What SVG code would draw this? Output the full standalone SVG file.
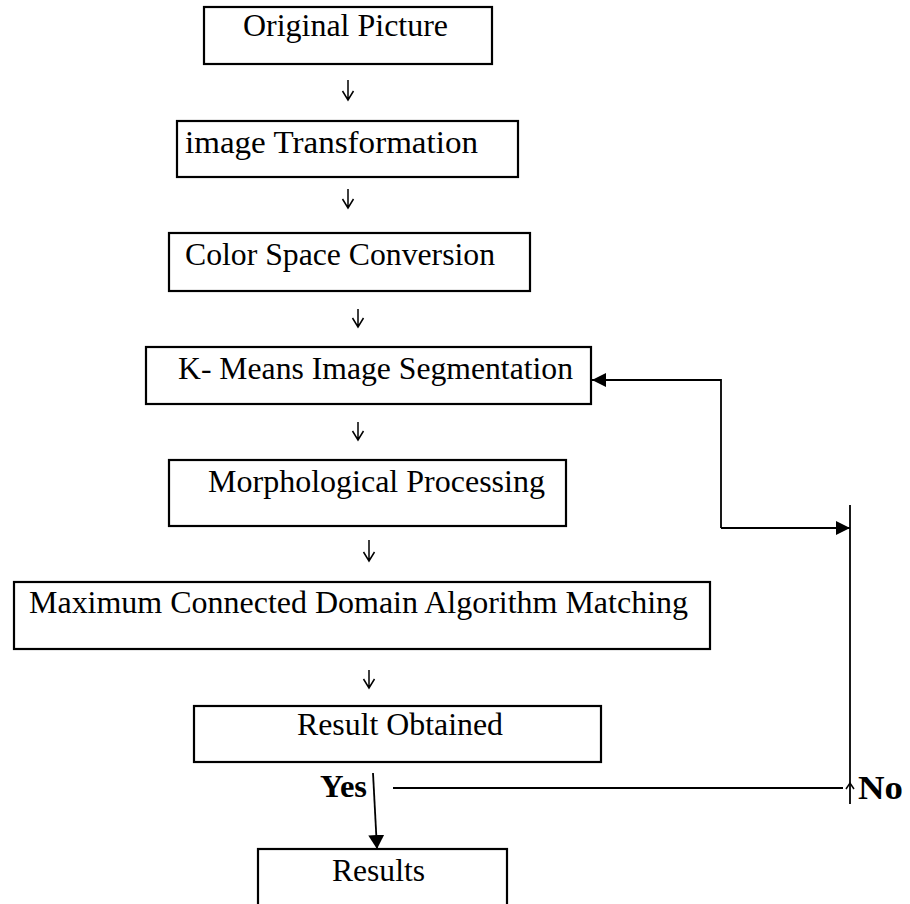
<svg xmlns="http://www.w3.org/2000/svg" width="910" height="904" viewBox="0 0 910 904">
<style>
  .box { fill: #fff; stroke: #000; stroke-width: 2.2; }
  .t { font-family: "Liberation Serif", "Times New Roman", serif; fill: #000; font-size: 31.5px; }
  .b { font-weight: bold; }
  .ln { fill: none; stroke: #000; stroke-width: 1.8; }
  .tick { fill: none; stroke: #000; stroke-width: 1.5; }
</style>
<defs>
  <marker id="tri" viewBox="0 0 14 14" refX="14" refY="7" markerWidth="14" markerHeight="14" markerUnits="userSpaceOnUse" orient="auto">
    <path d="M0,0 L14,7 L0,14 Z" fill="#000"/>
  </marker>
  <marker id="tri16" viewBox="0 0 14 16" refX="14" refY="8" markerWidth="14" markerHeight="16" markerUnits="userSpaceOnUse" orient="auto">
    <path d="M0,0 L14,8 L0,16 Z" fill="#000"/>
  </marker>
</defs>
<rect x="0" y="0" width="910" height="904" fill="#fff"/>

<g id="n1">
  <rect class="box" x="204" y="7" width="288" height="57"/>
  <text class="t" x="243" y="36" textLength="205" lengthAdjust="spacingAndGlyphs">Original Picture</text>
</g>
<g id="n2">
  <rect class="box" x="177" y="121" width="341" height="56"/>
  <text class="t" x="185" y="153" textLength="293" lengthAdjust="spacingAndGlyphs">image Transformation</text>
</g>
<g id="n3">
  <rect class="box" x="169" y="233" width="361" height="58"/>
  <text class="t" x="185" y="265" textLength="310" lengthAdjust="spacingAndGlyphs">Color Space Conversion</text>
</g>
<g id="n4">
  <rect class="box" x="146" y="347" width="445" height="57"/>
  <text class="t" x="178" y="379" textLength="395" lengthAdjust="spacingAndGlyphs">K- Means Image Segmentation</text>
</g>
<g id="n5">
  <rect class="box" x="169" y="460" width="397" height="66"/>
  <text class="t" x="208" y="492" textLength="337" lengthAdjust="spacingAndGlyphs">Morphological Processing</text>
</g>
<g id="n6">
  <rect class="box" x="14" y="582" width="696" height="67"/>
  <text class="t" x="29" y="613" textLength="659" lengthAdjust="spacingAndGlyphs">Maximum Connected Domain Algorithm Matching</text>
</g>
<g id="n7">
  <rect class="box" x="194" y="706" width="407" height="56"/>
  <text class="t" x="297" y="735" textLength="206" lengthAdjust="spacingAndGlyphs">Result Obtained</text>
</g>
<g id="n8">
  <rect class="box" x="258" y="849" width="249" height="70"/>
  <text class="t" x="332" y="881" textLength="93" lengthAdjust="spacingAndGlyphs">Results</text>
</g>
<g id="labels">
  <text class="t b" x="320" y="797" style="font-size:31px" textLength="47" lengthAdjust="spacingAndGlyphs">Yes</text>
  <text class="t b" x="858" y="799" style="font-size:33px" textLength="45" lengthAdjust="spacingAndGlyphs">No</text>
</g>

<g id="connectors">
  <path class="tick" d="M348,80 V100 M342.5,91 L348,100 L353.5,91"/>
  <path class="tick" d="M348,189 V208 M342.5,199 L348,208 L353.5,199"/>
  <path class="tick" d="M358,309 V327 M352.5,318 L358,327 L363.5,318"/>
  <path class="tick" d="M358,422 V440 M352.5,431 L358,440 L363.5,431"/>
  <path class="tick" d="M369,540 V561 M363.5,552 L369,561 L374.5,552"/>
  <path class="tick" d="M369,670 V688 M363.5,679 L369,688 L374.5,679"/>

  <path class="ln" d="M721,528 V380 H592" marker-end="url(#tri)"/>
  <path class="ln" d="M721,528 H850" marker-end="url(#tri)"/>
  <path class="ln" d="M850,505 V804"/>
  <path class="ln" d="M393,788 H843"/>
  <path class="tick" d="M846,789 L850,783 L854,789"/>
  <path class="ln" d="M373,773 L377,849" marker-end="url(#tri16)"/>
</g>
</svg>
